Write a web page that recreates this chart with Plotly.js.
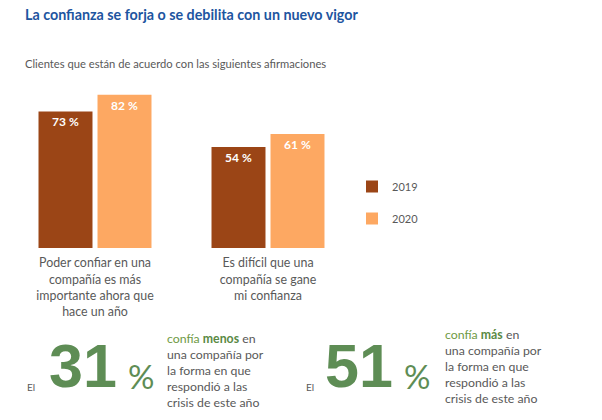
<!DOCTYPE html>
<html>
<head>
<meta charset="utf-8">
<script src="https://cdn.plot.ly/plotly-3.0.1.min.js"></script>
<style>html,body{margin:0;padding:0;background:#fff;}#chart{width:602px;height:420px;}</style>
</head>
<body>
<div id="chart"></div>
<script>
// ---- data ----
const categories = [
  "Poder confiar en una<br>compañía es más<br>importante ahora que<br>hace un año",
  "Es difícil que una<br>compañía se gane<br>mi confianza"
];
const seriesNames = ["2019", "2020"];
const values2019 = [73, 54];
const values2020 = [82, 61];
const statValues = [31, 51];
const statWords = ["menos", "más"];

const titleText = "La confianza se forja o se debilita con un nuevo vigor";
const subtitleText = "Clientes que están de acuerdo con las siguientes afirmaciones";

// ---- style ----
const W = 602, H = 420;
const FONT = "Lato, 'Open Sans', sans-serif";
const GREY = "#595959";
const GREEN = "#5e8d55";
const px = v => v / W;
const py = v => 1 - v / H;

function barTrace(name, vals, color) {
  return {
    type: "bar", name: name, legendgroup: name,
    x: categories, y: vals,
    marker: {color: color},
    text: vals.map(v => v + " %"),
    textposition: "inside", insidetextanchor: "end",
    textfont: {family: FONT, size: 12, color: "#ffffff", weight: "bold"},
    hoverinfo: "skip"
  };
}

const data = [
  barTrace(seriesNames[0], values2019, "#9b4516"),
  barTrace(seriesNames[1], values2020, "#fda862")
];

const annotations = [
  {text: "<b>" + titleText + "</b>", x: px(23), y: py(15), xref: "paper", yref: "paper",
   xanchor: "left", yanchor: "middle", showarrow: false,
   font: {family: FONT, size: 14.3, color: "#1d55a0"}},
  {text: subtitleText, x: px(23), y: py(63), xref: "paper", yref: "paper",
   xanchor: "left", yanchor: "middle", showarrow: false,
   font: {family: FONT, size: 11.2, color: GREY}}
];

const statX = [{el: 25, num: 47, pct: 126, txt: 165, txtY: 371}, {el: 304, num: 323, pct: 402, txt: 443, txtY: 367}];
statValues.forEach((v, i) => {
  const p = statX[i];
  annotations.push({text: "El", x: px(p.el), y: py(387), xref: "paper", yref: "paper",
    xanchor: "left", yanchor: "middle", showarrow: false,
    font: {family: FONT, size: 10, color: GREY}});
  annotations.push({text: "<b>" + v + "</b>", x: px(p.num), y: py(366), xref: "paper", yref: "paper",
    xanchor: "left", yanchor: "middle", showarrow: false,
    font: {family: "'Liberation Sans', Arial, sans-serif", size: 61, color: GREEN}});
  annotations.push({text: "%", x: px(p.pct), y: py(376), xref: "paper", yref: "paper",
    xanchor: "left", yanchor: "middle", showarrow: false,
    font: {family: FONT, size: 33, color: GREEN}});
  annotations.push({
    text: "<span style='color:#6e9a45'>confía</span> <b><span style='color:#5a8a44'>" + statWords[i] +
          "</span></b> en<br>una compañía por<br>la forma en que<br>respondió a las<br>crisis de este año",
    x: px(p.txt), y: py(p.txtY - 1), xref: "paper", yref: "paper",
    xanchor: "left", yanchor: "middle", align: "left", showarrow: false,
    font: {family: FONT, size: 12.3, color: GREY}});
});

const layout = {
  width: W, height: H,
  margin: {l: 0, r: 0, t: 0, b: 0},
  paper_bgcolor: "#ffffff", plot_bgcolor: "#ffffff",
  font: {family: FONT, color: GREY},
  barmode: "group", bargap: 0.318, bargroupgap: 0.085,
  xaxis: {domain: [px(8.5), px(354.5)], range: [-0.5, 1.5], showgrid: false, zeroline: false,
          showline: false, ticks: "", ticklabelstandoff: 6,
          tickfont: {family: FONT, size: 12.4, color: GREY}},
  yaxis: {domain: [py(248), py(61)], range: [0, 100], showgrid: false, zeroline: false,
          showline: false, showticklabels: false, ticks: ""},
  showlegend: true,
  legend: {x: px(352), y: py(172), xanchor: "left", yanchor: "top", tracegroupgap: 13,
           font: {family: FONT, size: 11, color: GREY}, bgcolor: "rgba(0,0,0,0)", traceorder: "grouped"},
  annotations: annotations
};

Plotly.newPlot("chart", data, layout, {staticPlot: true, displayModeBar: false});
</script>
</body>
</html>
